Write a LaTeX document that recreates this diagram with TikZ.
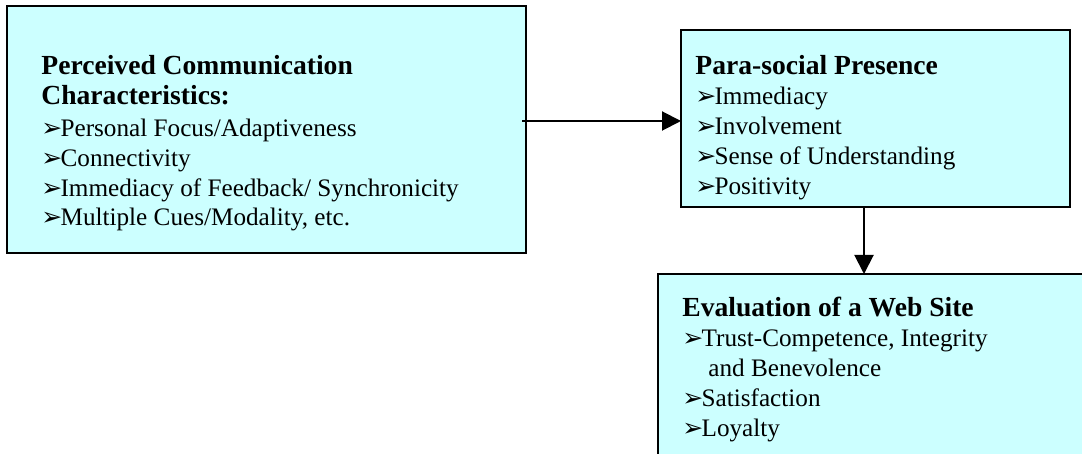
\documentclass[tikz,border=0pt]{standalone}
\usepackage{fontspec}
\setmainfont{Liberation Serif}
\newfontfamily\dejavu{DejaVu Sans}
\usetikzlibrary{arrows.meta}
\definecolor{boxfill}{HTML}{CCFFFF}
\newcommand{\bul}{\makebox[9.6pt][l]{\dejavu\fontsize{12.5}{12.5}\selectfont ➢}}
\tikzset{
  box/.style={draw=black, line width=1pt, fill=boxfill, rectangle, inner sep=0pt, outer sep=0pt, anchor=north west},
  head/.style={anchor=base west, inner sep=0pt, font=\fontsize{13.8}{15}\selectfont\bfseries},
  item/.style={anchor=base west, inner sep=0pt, font=\fontsize{12.6}{15}\selectfont},
  arr/.style={line width=1pt, -{Triangle[length=9.5pt,width=9.5pt]}}
}
\begin{document}
\begin{tikzpicture}[x=0.5pt,y=-0.5pt]
\clip (0,0) rectangle (1082,454);
\useasboundingbox (0,0) rectangle (1082,454);
% boxes
\node[box, minimum width=259.5pt, minimum height=123.5pt] (A) at (7,6) {};
\node[box, minimum width=194.5pt, minimum height=88.5pt] (B) at (681,30) {};
\node[box, minimum width=230pt, minimum height=110pt] (C) at (658,274) {};
% left box text
\node[head] (a0) at (41,75) {Perceived Communication};
\node[head] (a1) at (41,105) {Characteristics:};
\node[item] (a2) at (41,137) {\bul Personal Focus/Adaptiveness};
\node[item] (a3) at (41,167) {\bul Connectivity};
\node[item] (a4) at (41,197) {\bul Immediacy of Feedback/ Synchronicity};
\node[item] (a5) at (41,226) {\bul Multiple Cues/Modality, etc.};
% right box text
\node[head] (b0) at (695,75) {Para-social Presence};
\node[item] (b1) at (695,105) {\bul Immediacy};
\node[item] (b2) at (695,135) {\bul Involvement};
\node[item] (b3) at (695,165) {\bul Sense of Understanding};
\node[item] (b4) at (695,195) {\bul Positivity};
% bottom box text
\node[head] (c0) at (682,317) {Evaluation of a Web Site};
\node[item] (c1) at (682,347) {\bul Trust-Competence, Integrity};
\node[item] (c2) at (708,377) {and Benevolence};
\node[item] (c3) at (682,407) {\bul Satisfaction};
\node[item] (c4) at (682,437) {\bul Loyalty};
% connectors
\coordinate (s1) at (522,121);
\draw[arr] (s1) -- (s1 -| B.west);
\coordinate (s2) at (864,207);
\draw[arr] (s2) -- (s2 |- C.north);
\end{tikzpicture}
\end{document}
